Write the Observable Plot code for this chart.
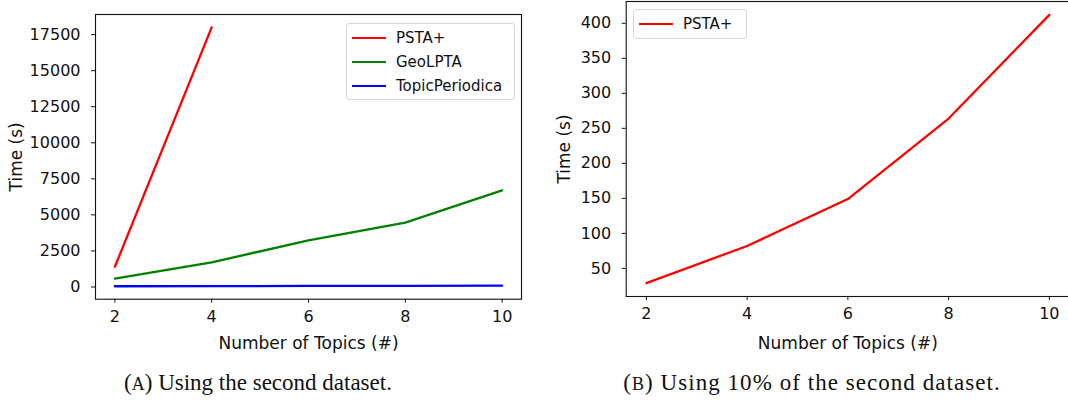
<!DOCTYPE html>
<html>
<head>
<meta charset="utf-8">
<script src="https://cdn.jsdelivr.net/npm/d3@7"></script>
<script src="https://cdn.jsdelivr.net/npm/@observablehq/plot@0.6"></script>
<style>
  html, body { margin: 0; padding: 0; background: #fff; overflow: hidden; }
  #wrap { position: relative; width: 1068px; height: 403px; overflow: hidden; background: #fff; }
  .panel { position: absolute; top: 0; width: 540px; height: 360px; }
  .panel svg { max-width: none !important; }
  .panel g[aria-label="x-axis label"], .panel g[aria-label="y-axis label"] { font-size: 17px; }
  .panel g[aria-label="x-axis tick label"], .panel g[aria-label="y-axis tick label"] { font-size: 16px; }
  .legend { position: absolute; background: rgba(255,255,255,0.85); border: 1px solid #d6d6d6; border-radius: 3px;
            font-family: "DejaVu Sans", sans-serif; font-size: 15px; color: #111; box-sizing: border-box; }
  .legend .item { position: absolute; left: 0; height: 20px; white-space: nowrap; }
  .legend .sw { position: absolute; top: 9px; height: 2.4px; width: 34px; left: 5px; }
  .legend .lab { position: absolute; left: 49px; top: 0; line-height: 20px; }
  .caption { position: absolute; top: 370px; font-family: "Liberation Serif", "DejaVu Serif", serif; font-size: 23px;
             color: #111; white-space: nowrap; transform: translateX(-50%); }
  .sc { font-size: 0.78em; }
</style>
</head>
<body>
<div id="wrap">
  <div id="panelA" class="panel" style="left:0px"></div>
  <div id="panelB" class="panel" style="left:540px"></div>
  <div id="legendA" class="legend" style="left:346px; top:23px; width:169px; height:77px;"></div>
  <div id="legendB" class="legend" style="left:633px; top:9px; width:114px; height:30px;"></div>
  <div class="caption" style="left:258px">(<span class="sc">A</span>) Using the second dataset.</div>
  <div class="caption" style="left:812px; letter-spacing:1.05px">(<span class="sc">B</span>) Using 10% of the second dataset.</div>
</div>
<script>
// ---- data ----
const topicsA = [2, 4, 6, 8, 10];
const pstaTopicsA = [2, 4];
const pstaA = [1400, 18000];
const geoA = [580, 1710, 3230, 4460, 6700];
const topicPeriodicaA = [50, 60, 70, 80, 90];

const topicsB = [2, 4, 6, 8, 10];
const pstaB = [29, 82, 149, 264, 412];

const xTicks = [2, 4, 6, 8, 10];
const yTicksA = [0, 2500, 5000, 7500, 10000, 12500, 15000, 17500];
const yTicksB = [50, 100, 150, 200, 250, 300, 350, 400];

const seriesNames = ["PSTA+", "GeoLPTA", "TopicPeriodica"];
const seriesColors = ["#ff0000", "#008000", "#0000ff"];

// ---- helpers ----
function padded(values) {
  const [lo, hi] = d3.extent(values);
  const m = (hi - lo) * 0.05;
  return [lo - m, hi + m];
}
const rows = (xs, ys, s) => xs.map((x, i) => ({x, y: ys[i], s}));

const dataA = [
  ...rows(pstaTopicsA, pstaA, seriesNames[0]),
  ...rows(topicsA, geoA, seriesNames[1]),
  ...rows(topicsA, topicPeriodicaA, seriesNames[2])
];
const dataB = rows(topicsB, pstaB, seriesNames[0]);

const styleObj = {fontFamily: "DejaVu Sans, sans-serif", fontSize: "15px", color: "#111", background: "transparent", overflow: "visible", maxWidth: "none"};

function panel({data, width, height, mL, mR, mT, mB, yTicks, yLabelOffset, xLabelOffset}) {
  return Plot.plot({
    width, height,
    marginLeft: mL, marginRight: mR, marginTop: mT, marginBottom: mB,
    style: styleObj,
    x: {domain: padded(data.map(d => d.x))},
    y: {domain: padded(data.map(d => d.y))},
    color: {domain: seriesNames, range: seriesColors},
    marks: [
      Plot.line(data, {x: "x", y: "y", z: "s", stroke: "s", strokeWidth: 2.3}),
      Plot.frame({stroke: "#111", strokeWidth: 1.1}),
      Plot.axisX({ticks: xTicks, tickSize: 4, tickPadding: 7, tickFormat: d3.format("d"),
                  label: "Number of Topics (#)", labelAnchor: "center", labelArrow: "none", labelOffset: xLabelOffset}),
      Plot.axisY({ticks: yTicks, tickSize: 4, tickPadding: 11, tickFormat: d3.format("d"),
                  label: "Time (s)", labelAnchor: "center", labelArrow: "none", labelOffset: yLabelOffset})
    ]
  });
}

document.getElementById("panelA").appendChild(panel({
  data: dataA, width: 540, height: 360, mL: 95, mR: 19, mT: 14, mB: 61.3,
  yTicks: yTicksA, yLabelOffset: 86, xLabelOffset: 50
}));
document.getElementById("panelB").appendChild(panel({
  data: dataB, width: 540, height: 360, mL: 85.7, mR: 11, mT: 1, mB: 64,
  yTicks: yTicksB, yLabelOffset: 68, xLabelOffset: 52
}));

function legend(id, names) {
  const el = document.getElementById(id);
  names.forEach((n, i) => {
    const it = document.createElement("div");
    it.className = "item";
    it.style.top = (4 + i * 24) + "px";
    it.innerHTML = `<div class="sw" style="background:${seriesColors[seriesNames.indexOf(n)]}"></div><div class="lab">${n}</div>`;
    el.appendChild(it);
  });
}
legend("legendA", seriesNames);
legend("legendB", [seriesNames[0]]);
</script>
</body>
</html>
